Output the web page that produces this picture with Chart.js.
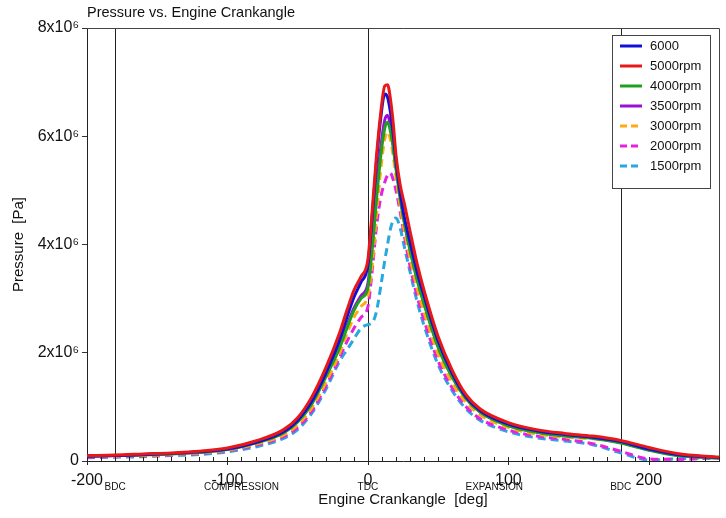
<!DOCTYPE html>
<html>
<head>
<meta charset="utf-8">
<script src="https://cdn.jsdelivr.net/npm/chart.js@4/dist/chart.umd.min.js"></script>
<style>
  html, body { margin: 0; padding: 0; background: #fff; }
  #wrap { width: 726px; height: 518px; }
</style>
</head>
<body>
<div id="wrap"><canvas id="chart" width="726" height="518"></canvas></div>
<script>
// crank angle [deg], pressure in units of 10^6 Pa
const angles = [-200, -180, -160, -140, -120, -100, -80, -60, -50, -40, -30, -20, -15, -10, -5, 0, 3, 6, 9, 12, 14, 16, 18, 20, 23, 26, 30, 35, 40, 50, 60, 70, 80, 100, 120, 140, 160, 180, 200, 220, 250];

const p6000 = [0.09, 0.10, 0.12, 0.14, 0.17, 0.22, 0.34, 0.54, 0.75, 1.10, 1.62, 2.25, 2.65, 3.02, 3.30, 3.62, 4.5, 5.5, 6.3, 6.78, 6.72, 6.45, 6.05, 5.55, 4.95, 4.5, 4.05, 3.5, 3.05, 2.22, 1.62, 1.18, 0.93, 0.68, 0.56, 0.49, 0.44, 0.36, 0.22, 0.12, 0.06];
const p5000 = [0.10, 0.11, 0.13, 0.15, 0.18, 0.24, 0.37, 0.58, 0.80, 1.18, 1.72, 2.38, 2.78, 3.15, 3.40, 3.72, 4.6, 5.6, 6.4, 6.93, 6.95, 6.7, 6.25, 5.65, 5.1, 4.75, 4.25, 3.65, 3.15, 2.3, 1.68, 1.22, 0.96, 0.71, 0.58, 0.51, 0.46, 0.38, 0.25, 0.14, 0.07];
const p4000 = [0.09, 0.10, 0.11, 0.13, 0.16, 0.21, 0.33, 0.52, 0.72, 1.05, 1.55, 2.10, 2.45, 2.78, 3.00, 3.20, 3.9, 4.8, 5.6, 6.15, 6.26, 6.1, 5.8, 5.4, 4.85, 4.4, 3.9, 3.35, 2.9, 2.1, 1.55, 1.15, 0.9, 0.65, 0.53, 0.46, 0.42, 0.33, 0.20, 0.10, 0.05];
const p3500 = [0.09, 0.10, 0.12, 0.14, 0.16, 0.22, 0.34, 0.53, 0.73, 1.07, 1.58, 2.15, 2.50, 2.82, 3.05, 3.28, 4.0, 4.95, 5.75, 6.3, 6.39, 6.2, 5.85, 5.45, 4.9, 4.42, 3.92, 3.38, 2.92, 2.12, 1.56, 1.16, 0.91, 0.66, 0.54, 0.47, 0.43, 0.34, 0.21, 0.11, 0.06];
const p3000 = [0.08, 0.09, 0.10, 0.12, 0.15, 0.20, 0.31, 0.48, 0.67, 0.98, 1.45, 2.00, 2.35, 2.65, 2.85, 3.05, 3.6, 4.5, 5.35, 5.95, 6.08, 5.95, 5.65, 5.25, 4.7, 4.25, 3.75, 3.2, 2.75, 1.98, 1.45, 1.08, 0.85, 0.62, 0.50, 0.44, 0.41, 0.35, 0.23, 0.12, 0.05];
const p2000 = [0.07, 0.08, 0.09, 0.11, 0.14, 0.19, 0.29, 0.45, 0.62, 0.92, 1.38, 1.92, 2.20, 2.45, 2.65, 2.85, 3.5, 4.3, 4.85, 5.15, 5.28, 5.32, 5.2, 5.0, 4.6, 4.15, 3.6, 3.05, 2.6, 1.85, 1.35, 1.0, 0.78, 0.57, 0.46, 0.40, 0.32, 0.18, 0.04, 0.03, 0.06];
const p1500 = [0.06, 0.07, 0.08, 0.10, 0.12, 0.17, 0.26, 0.42, 0.58, 0.88, 1.32, 1.85, 2.05, 2.25, 2.45, 2.52, 2.55, 2.75, 3.2, 3.7, 4.0, 4.28, 4.45, 4.49, 4.3, 3.95, 3.5, 2.95, 2.5, 1.78, 1.3, 0.96, 0.75, 0.54, 0.43, 0.37, 0.30, 0.15, 0.02, 0.04, 0.07];

const seriesLabels = ['6000', '5000rpm', '4000rpm', '3500rpm', '3000rpm', '2000rpm', '1500rpm'];
const seriesData = [p6000, p5000, p4000, p3500, p3000, p2000, p1500];
const seriesColors = ['#1010d8', '#e81818', '#20a020', '#9a10d8', '#ffaa10', '#e820e0', '#28a8e0'];
const seriesDashed = [false, false, false, false, true, true, true];
const drawOrder = [1, 0, 2, 3, 4, 5, 6];

const yTicks = [0, 2, 4, 6, 8];
const phaseAngles = [-180, -90, 0, 90, 180];
const phaseLabels = ['BDC', 'COMPRESSION', 'TDC', 'EXPANSION', 'BDC'];
const markerAngles = [-180, 0, 180];

const FONT = "'Liberation Sans', Arial, Helvetica, sans-serif";

const datasets = seriesData.map((vals, i) => ({
  label: seriesLabels[i],
  data: vals.map((v, k) => ({ x: angles[k], y: v })),
  borderColor: seriesColors[i],
  backgroundColor: seriesColors[i],
  borderWidth: 3,
  borderDash: seriesDashed[i] ? [8, 5] : [],
  pointRadius: 0,
  fill: false,
  cubicInterpolationMode: 'monotone',
  order: drawOrder[i]
}));

const decor = {
  id: 'decor',
  beforeDatasetsDraw(chart) {
    const { ctx, chartArea: a, scales: { x } } = chart;
    ctx.save();
    ctx.strokeStyle = '#222';
    ctx.lineWidth = 1;
    markerAngles.forEach(v => {
      const px = Math.round(x.getPixelForValue(v)) + 0.5;
      ctx.beginPath();
      ctx.moveTo(px, a.top);
      ctx.lineTo(px, a.bottom);
      ctx.stroke();
    });
    ctx.restore();
  },
  afterDraw(chart) {
    const { ctx, chartArea: a, scales: { x } } = chart;
    ctx.save();
    // frame top and right
    ctx.strokeStyle = '#444';
    ctx.lineWidth = 1;
    ctx.beginPath();
    ctx.moveTo(a.left, a.top + 0.5);
    ctx.lineTo(a.right + 0.5, a.top + 0.5);
    ctx.lineTo(a.right + 0.5, a.bottom);
    ctx.stroke();

    // x ticks: minor every 10 inward, major every 100
    ctx.strokeStyle = '#222';
    for (let v = -200; v <= 250; v += 10) {
      const px = Math.round(x.getPixelForValue(v)) + 0.5;
      const major = v % 100 === 0;
      ctx.beginPath();
      ctx.moveTo(px, a.bottom - 4);
      ctx.lineTo(px, a.bottom + (major ? 4 : 0));
      ctx.stroke();
    }

    // phase labels under the axis
    ctx.fillStyle = '#111';
    ctx.font = '10px ' + FONT;
    ctx.textAlign = 'center';
    ctx.textBaseline = 'middle';
    phaseAngles.forEach((v, i) => {
      ctx.fillText(phaseLabels[i], x.getPixelForValue(v), 487);
    });

    // title
    ctx.font = '14.5px ' + FONT;
    ctx.textAlign = 'left';
    ctx.fillText('Pressure vs. Engine Crankangle', 87, 13);

    // legend box
    const bx = 612, by = 35, bw = 98, bh = 153;
    ctx.fillStyle = '#fff';
    ctx.fillRect(bx, by, bw, bh);
    ctx.strokeStyle = '#444';
    ctx.strokeRect(bx + 0.5, by + 0.5, bw, bh);
    ctx.font = '13px ' + FONT;
    seriesLabels.forEach((lab, i) => {
      const yy = by + 11 + i * 20;
      ctx.strokeStyle = seriesColors[i];
      ctx.lineWidth = 3;
      ctx.setLineDash(seriesDashed[i] ? [7, 4] : []);
      ctx.beginPath();
      ctx.moveTo(bx + 8, yy);
      ctx.lineTo(bx + 30, yy);
      ctx.stroke();
      ctx.setLineDash([]);
      ctx.fillStyle = '#111';
      ctx.fillText(lab, bx + 38, yy);
    });
    ctx.restore();
  }
};

new Chart(document.getElementById('chart'), {
  type: 'line',
  data: { datasets },
  options: {
    responsive: false,
    animation: false,
    layout: { padding: { top: 28, right: 7, left: 0, bottom: 0 } },
    plugins: {
      legend: { display: false },
      tooltip: { enabled: false }
    },
    scales: {
      x: {
        type: 'linear',
        min: -200,
        max: 250,
        grid: { display: false },
        border: { display: true, color: '#222', width: 1 },
        ticks: {
          stepSize: 100,
          includeBounds: false,
          maxRotation: 0,
          padding: 2,
          color: '#111',
          font: { family: FONT, size: 16 }
        },
        title: {
          display: true,
          text: 'Engine Crankangle  [deg]',
          color: '#111',
          padding: { top: 0, bottom: 9 },
          font: { family: FONT, size: 15 }
        },
        afterFit(s) { s.height = 57; }
      },
      y: {
        min: 0,
        max: 8,
        afterBuildTicks(s) { s.ticks = yTicks.map(v => ({ value: v })); },
        grid: { drawOnChartArea: false, tickLength: 5, color: '#333' },
        border: { display: true, color: '#222', width: 1 },
        ticks: {
          padding: 3,
          color: '#111',
          font: { family: FONT, size: 16 },
          callback: v => v === 0 ? '0' : v + 'x10\u2076'
        },
        title: {
          display: true,
          text: 'Pressure  [Pa]',
          color: '#111',
          padding: { top: 10, bottom: 4 },
          font: { family: FONT, size: 15 }
        },
        afterFit(s) { s.width = 87; }
      }
    }
  },
  plugins: [decor]
});
</script>
</body>
</html>
